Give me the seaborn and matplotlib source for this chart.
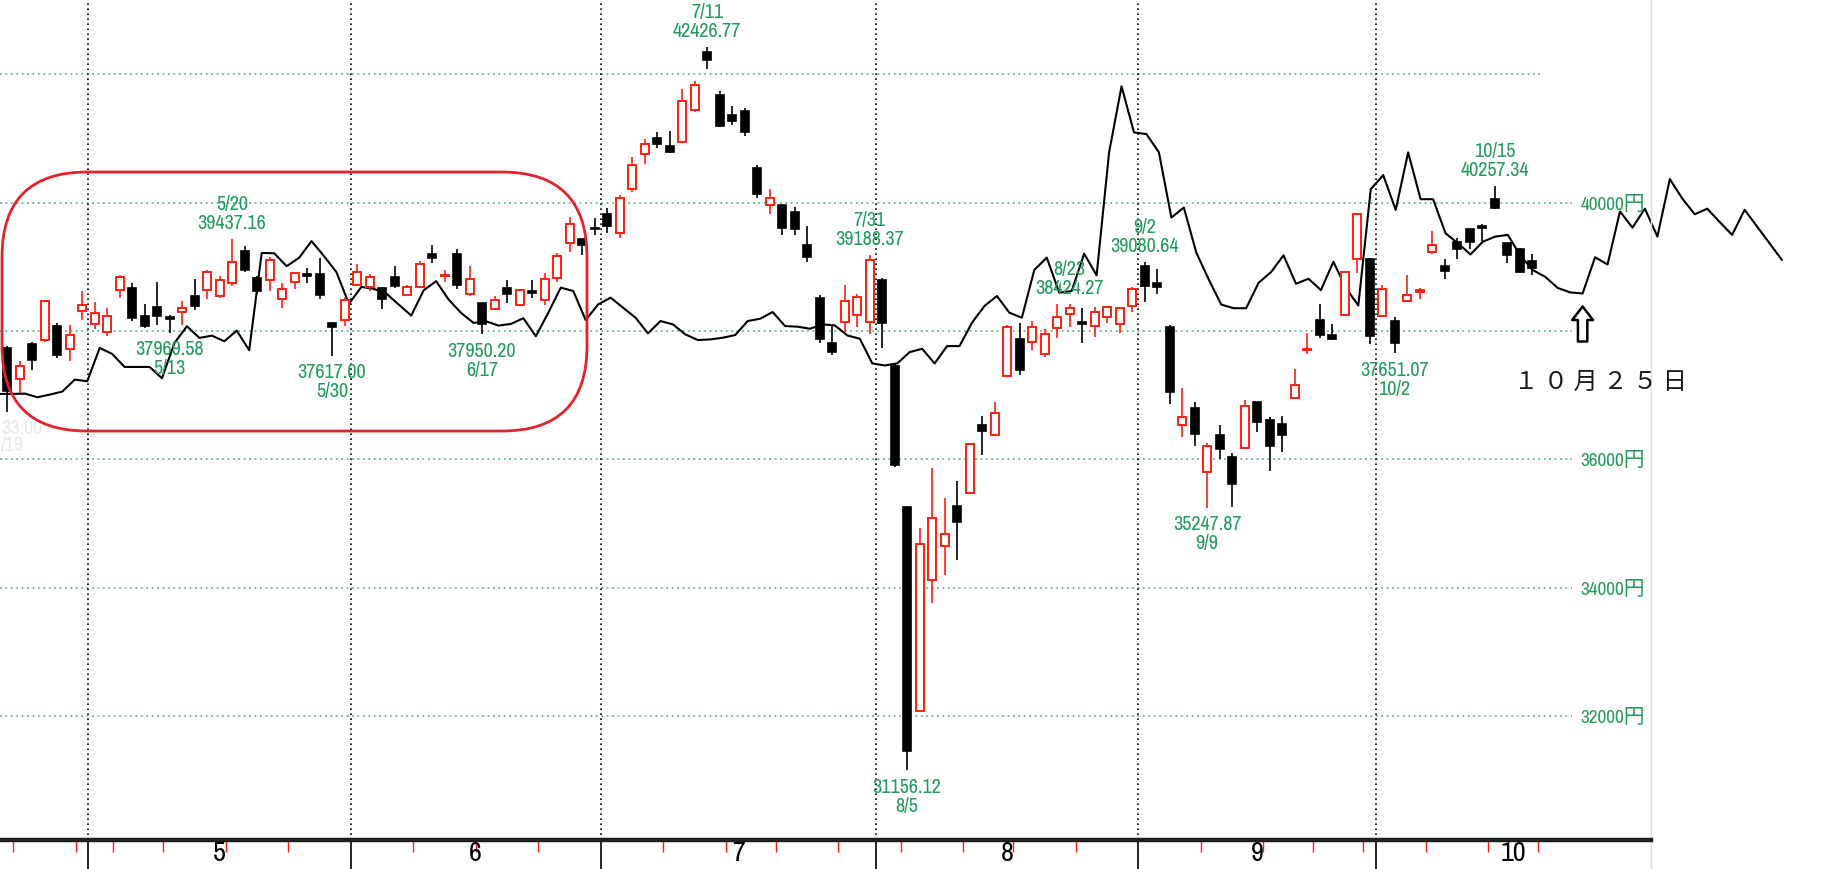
import numpy as np
import pandas as pd
import matplotlib
matplotlib.use('Agg')
import matplotlib.pyplot as plt
import matplotlib.transforms as mtransforms
import seaborn as sns
from matplotlib import font_manager as fm
from matplotlib.patches import FancyBboxPatch, FancyArrowPatch

sns.set_style('white')
plt.rcParams['font.family'] = ['DejaVu Sans', 'Noto Sans CJK JP']

# ---- data -------------------------------------------------------------
holidays = ['2024-04-29', '2024-05-03', '2024-05-06', '2024-07-15', '2024-08-12',
            '2024-09-16', '2024-09-23', '2024-10-14', '2024-11-04']
calendar = pd.bdate_range('2024-04-19', '2024-11-15').difference(pd.to_datetime(holidays))

opens = [37735, 37253, 37803, 37865, 38083, 37720, 38306,
         38114, 37979, 38633, 38669, 38239, 38368, 38218, 38290, 38540, 38633,
         38550, 38747, 39240, 38825, 38801, 38499, 38759, 38890, 38894, 38125, 38166,
         38723, 38686, 38671, 38842, 38567, 38686, 39191, 38853, 39191, 38582,
         38437, 38343, 38671, 38411, 38619, 38489, 38830, 39366, 39438, 39600,
         39828, 39531, 40208, 40754, 40998, 40874, 40936, 41446, 42340, 41674,
         41362, 41430, 40530, 39958, 39958, 39854, 39334, 38518, 37806, 38138,
         38242, 38138, 38794, 37460, 35259, 32084, 34117, 34646, 35270, 35482,
         36540, 36373, 37292, 37877, 37833, 37643, 38044, 38267, 38139, 38072,
         38212, 38111, 38390, 39019, 38741, 38057, 36529, 36807, 35807, 36380,
         36042, 36172, 36886, 36615, 36552, 36953, 37700, 38167, 37943, 38255,
         39115, 39125, 38240, 38151, 38463, 38604, 39229, 39010, 39385, 39583,
         39635, 40052, 39365, 39271, 39089]
highs = [37760, 37528, 37824, 38476, 38125, 38099, 38618,
         38446, 38358, 38877, 38747, 38426, 38758, 38254, 38462, 38810, 38944,
         38851, 39437, 39328, 38862, 39155, 38749, 38915, 38982, 39138, 38130, 38530,
         39050, 38880, 38671, 39019, 38723, 39087, 39332, 38946, 39269, 39014,
         38440, 38540, 38801, 38655, 38800, 38905, 39220, 39781, 39438, 39766,
         39922, 40114, 40702, 40988, 41092, 41118, 41770, 41900, 42427, 41742,
         41508, 41466, 40582, 40208, 39958, 39937, 39635, 38554, 38102, 38710,
         38570, 39188, 38830, 37480, 35280, 34925, 35872, 35398, 35660, 36240,
         36680, 36886, 38100, 38120, 38150, 38030, 38420, 38424, 38351, 38370,
         38392, 38368, 38685, 39081, 38964, 38100, 37110, 36900, 36260, 36536,
         36100, 36917, 36900, 36667, 36677, 37406, 37969, 38412, 38115, 38925,
         39833, 39135, 38708, 38219, 38865, 38672, 39557, 39114, 39453, 39600,
         39661, 40257, 39365, 39297, 39193]
lows = [36733, 37035, 37398, 37830, 37580, 37528, 38176,
        38030, 37927, 38514, 38150, 38047, 38099, 37970, 38088, 38322, 38498,
        38514, 38700, 38913, 38580, 38620, 38359, 38650, 38748, 38500, 37617, 38080,
        38718, 38620, 38338, 38671, 38551, 38670, 39061, 38759, 38650, 38551,
        37950, 38322, 38437, 38400, 38520, 38400, 38762, 39230, 39178, 39490,
        39531, 39453, 40166, 40598, 40853, 40770, 40926, 41415, 42080, 41180,
        41206, 41030, 40078, 39818, 39490, 39490, 39078, 37806, 37618, 37980,
        38060, 37947, 37738, 35880, 31156, 32077, 33755, 34200, 34434, 35480,
        36067, 36373, 37292, 37320, 37700, 37600, 37890, 38055, 37810, 37900,
        38130, 37961, 38300, 38445, 38574, 36865, 36344, 36200, 35248, 36000,
        35260, 36172, 36420, 35823, 36120, 36953, 37646, 37890, 37865, 38230,
        38906, 37800, 38240, 37651, 38463, 38490, 39193, 38802, 39115, 39271,
        39401, 39896, 39062, 38906, 38864]
closes = [37061, 37450, 37552, 38462, 37628, 37934, 38405,
          38274, 38236, 38835, 38202, 38074, 38229, 38179, 38356, 38385, 38920,
          38787, 39069, 38946, 38617, 39103, 38646, 38900, 38855, 38556, 38054, 38487,
          38923, 38837, 38490, 38703, 38683, 39038, 39134, 38876, 38720, 38814,
          38102, 38482, 38570, 38633, 38596, 38804, 39173, 39667, 39341, 39583,
          39631, 40074, 40580, 40913, 40912, 40780, 41580, 41831, 42224, 41190,
          41275, 41097, 40126, 40063, 39599, 39594, 39154, 37869, 37667, 38468,
          38525, 39101, 38126, 35909, 31458, 34675, 35089, 34831, 35025, 36232,
          36442, 36726, 38062, 37388, 38062, 37951, 38211, 38364, 38110, 38288,
          38371, 38362, 38647, 38700, 38686, 37047, 36657, 36391, 36215, 36159,
          35619, 36833, 36581, 36203, 36380, 37155, 37723, 37940, 37870, 38917,
          39829, 37919, 38651, 37808, 38552, 38635, 39332, 38937, 39277, 39380,
          39605, 39910, 39180, 38911, 38981]

# comparison line (one point per session, runs past the last candle)
line_vals = [37019, 37019, 37024, 36967, 37009, 37055, 37242, 37216, 37735, 37642,
             37439, 37439, 37439, 37263, 37813, 38073, 37891, 37927, 37839, 38005,
             37699, 39214, 39210, 39009, 39139, 39399, 39165, 38915, 38421, 38686,
             38655, 38582, 38411, 38239, 38634, 38775, 38489, 38281, 38125, 38151,
             38083, 38109, 38198, 37917, 38284, 38674, 38622, 38170, 38414, 38518,
             38362, 38206, 37962, 38154, 38102, 37946, 37858, 37868, 37894, 37936,
             38154, 38190, 38294, 38076, 38066, 38034, 38102, 38086, 37930, 37878,
             37494, 37462, 37494, 37670, 37722, 37494, 37764, 37764, 38128, 38388,
             38544, 38284, 38206, 38950, 39142, 38596, 38622, 39204, 38866, 40780,
             41810, 41092, 41066, 40781, 39766, 39922, 39219, 38800, 38411, 38354,
             38354, 38750, 38917, 39177, 38734, 38813, 38636, 39078, 38672, 38396,
             40208, 40427, 39885, 40781, 40052, 40052, 39521, 39365, 39191, 39391,
             39470, 39496, 39174, 38948, 38843, 38670, 38600, 38583, 39148, 39035,
             39861, 39609, 39904, 39470, 40365, 40061, 39817, 39904, 39696, 39496,
             39887, 39626, 39365, 39104]

label_dates = ['5/13', '5/20', '5/30', '6/17', '7/11', '7/31', '8/5',
               '8/23', '9/2', '9/9', '10/2', '10/15']
label_values = [37969.58, 39437.16, 37617.00, 37950.20, 42426.77, 39188.37,
                31156.12, 38424.27, 39080.64, 35247.87, 37651.07, 40257.34]
label_kind = ['low', 'high', 'low', 'low', 'high', 'high',
              'low', 'high', 'high', 'low', 'low', 'high']
ghost_texts = ['33.00', '/19']   # faded remains of the 4/19 low label at the left edge

price_levels = [32000, 34000, 36000, 38000, 40000, 42000]
price_labels = ['32000円', '34000円', '36000円', '', '40000円', '']
month_names = [5, 6, 7, 8, 9, 10]
note_text = '１ ０ 月 ２ ５ 日'

# ---- styling ----------------------------------------------------------
RED = '#ff1e10'
BOX_RED = '#e3232b'
GREEN = '#229a5c'
GRID = '#62b98a'

# pick a narrow font if one is installed (the original uses a tall narrow face)
narrow = None
for f in fm.fontManager.ttflist:
    if f.style != 'normal' or str(f.weight) not in ('400', 'normal', 'regular', 'book'):
        continue
    if 'Narrow' in f.name or f.stretch in ('condensed', 'semi-condensed'):
        if narrow is None or 'Narrow' in f.name or (f.stretch == 'condensed' and narrow.stretch != 'condensed'):
            narrow = f
if narrow is not None:
    NARROW, STRETCH = narrow.name, narrow.stretch
    lab_size, axis_size, month_size = 15.8, 15, 22
else:
    NARROW, STRETCH = 'DejaVu Sans', 'normal'
    lab_size, axis_size, month_size = 12, 11.5, 15
text_kw = dict(family=[NARROW, 'Noto Sans CJK JP'], fontstretch=STRETCH)

n = len(opens)
df = pd.DataFrame({'o': opens, 'h': highs, 'l': lows, 'c': closes})
df['x'] = np.arange(n)
df['date'] = [f'{d.month}/{d.day}' for d in calendar[:n]]
up = df['c'] >= df['o']

# pixel -> data mapping of the original chart (12.5 px per session)
x_left, x_right = -0.56, 145.84
y_bottom, y_top = 30071, 43170
val_per_px = (y_top - y_bottom) / 841

fig = plt.figure(figsize=(18.3, 8.7), dpi=100)
ax = fig.add_axes([0, 29 / 870, 1, 841 / 870])
ax.set_xlim(x_left, x_right)
ax.set_ylim(y_bottom, y_top)

# month / week boundaries from the trading calendar
month_bounds = [i - 0.5 for i in range(1, len(calendar))
                if calendar[i].month != calendar[i - 1].month]
axis_end = month_bounds[-1]
month_bounds = month_bounds[:-1]
week_bounds = [i - 0.5 for i in range(1, n + 1)
               if calendar[i].isocalendar()[1] != calendar[i - 1].isocalendar()[1]
               and calendar[i].month == calendar[i - 1].month]

# grid
grid_end = 125.2
grid_ends = [grid_end] * 5 + [122.6]
ax.hlines(price_levels, x_left, grid_ends, colors=GRID, linestyles=(0, (1, 2)),
          lw=1.3, zorder=1)
ax.vlines(month_bounds, y_bottom, y_top, colors='black', linestyles=(0, (1, 2)),
          lw=1.2, zorder=1)
for v, s in zip(price_levels, price_labels):
    if s:
        ax.text(grid_end + 0.7, v, s, ha='left', va='center', color=GREEN,
                fontsize=axis_size, **text_kw)

# comparison line
line_x = np.linspace(x_left, 142.0, len(line_vals))
sns.lineplot(x=line_x, y=line_vals, ax=ax, color='black', lw=1.5,
             estimator=None, sort=False, zorder=2)

# candles
ax.vlines(df.x[up], df.l[up], df.h[up], color=RED, lw=1.2, zorder=3)
ax.vlines(df.x[~up], df.l[~up], df.h[~up], color='black', lw=1.2, zorder=3)
ax.bar(df.x[up], (df.c - df.o)[up], bottom=df.o[up], width=0.64,
       color='white', edgecolor=RED, linewidth=1.4, zorder=4)
ax.bar(df.x[~up], (df.o - df.c)[~up], bottom=df.c[~up], width=0.64,
       color='black', edgecolor='black', linewidth=1.2, zorder=4)

# high / low labels
for d, v, k in zip(label_dates, label_values, label_kind):
    row = df[df['date'] == d].iloc[0]
    y = row.h if k == 'high' else row.l
    off_val, off_date = (16.5, 35.5) if k == 'high' else (-16, -35)
    ax.annotate(f'{v:.2f}', xy=(row.x, y), xytext=(0, off_val), textcoords='offset pixels',
                ha='center', va='center', color=GREEN, fontsize=lab_size, zorder=5, **text_kw)
    ax.annotate(d, xy=(row.x, y), xytext=(0, off_date), textcoords='offset pixels',
                ha='center', va='center', color=GREEN, fontsize=lab_size, zorder=5, **text_kw)

# faded leftovers at the left edge
first_low = df.l.iloc[0]
for j, s in enumerate(ghost_texts):
    ax.annotate(s, xy=(x_left, first_low), xytext=(1, -15 - 17.5 * j), textcoords='offset pixels',
                ha='left', va='center', color='#e6ebe6', fontsize=lab_size, zorder=1, **text_kw)

# rounded red box around May-June
box = FancyBboxPatch((-0.4, 36441), 46.8, 40475 - 36441,
                     boxstyle='round,pad=0,rounding_size=6.8',
                     mutation_aspect=12.5 * val_per_px,
                     fc='none', ec=BOX_RED, lw=2.0, zorder=6)
ax.add_patch(box)

# arrow + date note at the bottom of the line
k_min = 120 + int(np.argmin(line_vals[120:135]))
arrow_x = line_x[k_min]
tip = line_vals[k_min] - 13 * val_per_px
arrow = FancyArrowPatch((arrow_x, tip - 35 * val_per_px), (arrow_x, tip),
                        arrowstyle='simple,head_length=0.65,head_width=1.0,tail_width=0.45',
                        mutation_scale=15, fc='white', ec='black', lw=1.8,
                        shrinkA=0, shrinkB=0, zorder=6)
ax.add_patch(arrow)
ax.text(arrow_x + 1.4, tip - 74 * val_per_px, note_text,
        ha='center', va='center', fontsize=17.5, color='#1a1a1a',
        family=['Noto Sans CJK JP', 'DejaVu Sans'], zorder=6)

# axis
for s in ['top', 'right', 'left']:
    ax.spines[s].set_visible(False)
ax.spines['bottom'].set_bounds(x_left, axis_end)
ax.spines['bottom'].set_linewidth(3.2)
ax.spines['bottom'].set_color('#1e1e1e')
ax.set_yticks([])
ax.set_xticks(month_bounds)
ax.set_xticks(week_bounds, minor=True)
ax.tick_params(axis='x', which='major', bottom=True, length=21, width=1.2,
               color='black', direction='out', labelbottom=False)
ax.tick_params(axis='x', which='minor', bottom=True, length=8.5, width=1.0,
               color=RED, direction='out', labelbottom=False)
ax.axvline(axis_end, ymin=-29 / 841, ymax=1, clip_on=False, color='#d9d9d9', lw=1)

trans = mtransforms.blended_transform_factory(ax.transData, ax.transAxes)
for m in month_names:
    idx = [i for i, d in enumerate(calendar) if d.month == m]
    ax.text((idx[0] + idx[-1]) / 2, -0.0143, str(m), transform=trans, ha='center',
            va='center', fontsize=month_size, color='black', **text_kw)

fig.savefig('out.png', dpi=100, facecolor='white')
